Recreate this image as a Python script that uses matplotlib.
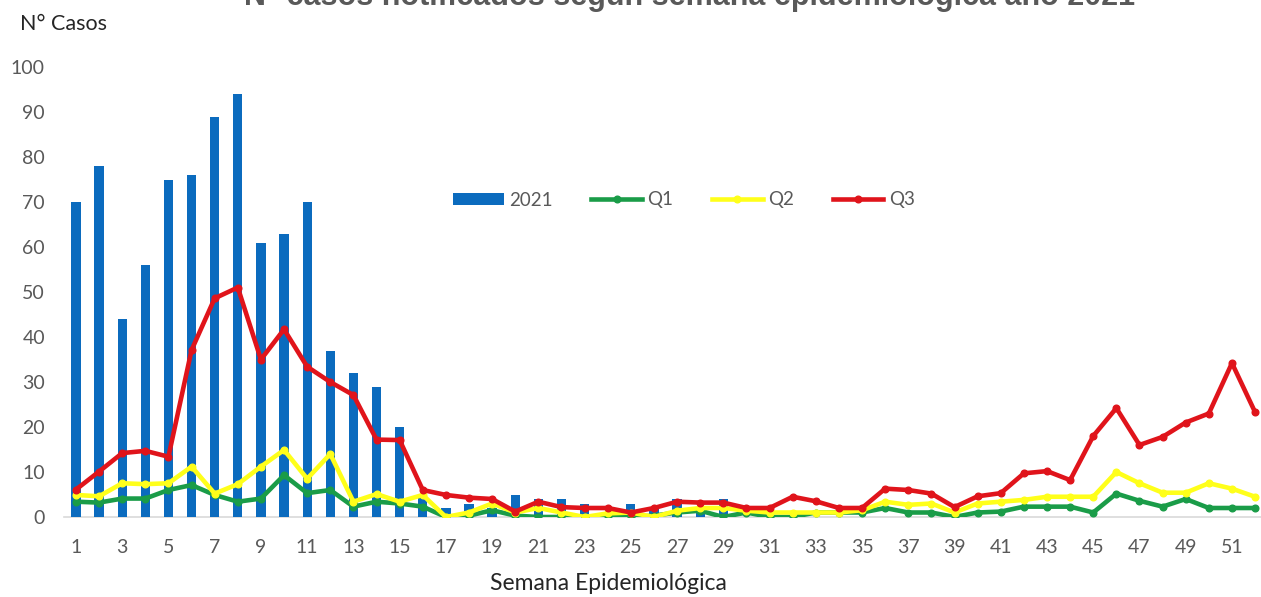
import matplotlib
matplotlib.use("Agg")
import matplotlib.pyplot as plt
import numpy as np

weeks = list(range(1, 53))
cases_2021 = [70, 78, 44, 56, 75, 76, 89, 94, 61, 63, 70, 37, 32, 29, 20, 5, 2, 3, 2, 5,
              4, 4, 3, 1, 3, 2, 4, 2, 4, 0, 0, 0, 0, 0, 0, 0, 0, 0, 0, 0,
              0, 0, 0, 0, 0, 0, 0, 0, 0, 0, 0, 0]
q1 = [3.4, 3.2, 4.1, 4.1, 6, 7.1, 4.9, 3.4, 4.1, 9.3, 5.3, 6, 2.3, 3.4, 3, 2.3, 0, 0.3, 1.5, 0.3,
      0, 0, 0, 0.3, 0, 0.3, 1, 1.4, 0, 1, 0, 0, 1, 1, 1, 2, 1, 1, 0, 1,
      1.2, 2.3, 2.3, 2.3, 1, 5.2, 3.6, 2.3, 4, 2, 2, 2]
q2 = [4.9, 4.6, 7.5, 7.3, 7.5, 11.2, 5.2, 7.3, 11.2, 14.9, 8.5, 14, 3.4, 5.1, 3.4, 4.9, 0, 1, 3, 1,
      2, 1, 0, 0.8, 1, 0, 1.4, 2, 2, 1.4, 1, 1, 1, 1, 1.5, 3.4, 2.7, 3, 1, 3,
      3.4, 3.8, 4.5, 4.5, 4.5, 10, 7.5, 5.4, 5.4, 7.5, 6.3, 4.5]
q3 = [6.1, 10.1, 14.2, 14.7, 13.4, 37.1, 48.6, 51, 35, 41.7, 33.4, 30, 27.1, 17.2, 17.1, 6, 4.9, 4.3, 4, 1.2,
      3.4, 2.2, 2, 2, 1, 2, 3.4, 3.2, 3.2, 2, 2, 4.5, 3.5, 2, 2, 6.3, 6, 5.2, 2.2, 4.6,
      5.3, 9.7, 10.2, 8.2, 18, 24.2, 16, 17.8, 21, 23, 34.2, 23.3]
x_tick_labels = [str(w) for w in weeks if w % 2 == 1]
y_ticks = list(range(0, 101, 10))

title = "N° casos notificados según semana epidemiológica año 2021"
y_label = "N° Casos"
x_label = "Semana Epidemiológica"
series_names = ["2021", "Q1", "Q2", "Q3"]

plt.rcParams['font.family'] = ['Lato', 'DejaVu Sans']

W, H = 1261, 597
fig = plt.figure(figsize=(W / 100, H / 100), dpi=100)
left_px, right_px = 64.4, 1261
bottom_px, top_px = 517, 67
ax = fig.add_axes([left_px / W, (H - bottom_px) / H, (right_px - left_px) / W, (bottom_px - top_px) / H])

gray = "#595959"
bar_c = "#0B6BBE"
green = "#1A9C48"
yellow = "#FFFF1A"
red = "#E0141B"

bars = ax.bar(weeks, cases_2021, width=0.4, color=bar_c, label=series_names[0], zorder=1)
lw = 3.3
ms = 4.8
l1, = ax.plot(weeks, q1, color=green, lw=lw, marker='o', ms=ms, label=series_names[1], zorder=2)
l2, = ax.plot(weeks, q2, color=yellow, lw=lw, marker='o', ms=ms, label=series_names[2], zorder=3)
l3, = ax.plot(weeks, q3, color=red, lw=lw, marker='o', ms=ms, label=series_names[3], zorder=4)

span_weeks = (right_px - left_px) / 23.12
ax.set_xlim(0.5, 0.5 + span_weeks)
ax.set_ylim(0, 100)

for s in ["top", "right", "left"]:
    ax.spines[s].set_visible(False)
ax.spines["bottom"].set_color("#D9D9D9")
ax.spines["bottom"].set_linewidth(1.2)
ax.spines["bottom"].set_zorder(0)

ax.set_xticks([w for w in weeks if w % 2 == 1])
ax.set_xticklabels(x_tick_labels)
ax.set_yticks(y_ticks)
ax.tick_params(axis='both', length=0, colors=gray, labelsize=14)
ax.tick_params(axis='y', pad=14)
ax.tick_params(axis='x', pad=16)

leg = ax.legend([bars, l1, l2, l3], series_names, loc='center left',
                bbox_to_anchor=((453 - left_px) / (right_px - left_px),
                                (bottom_px - 200) / (bottom_px - top_px)),
                ncol=4, frameon=False, fontsize=13.5, handlelength=2.7, handleheight=0.6,
                handletextpad=0.3, columnspacing=2.05, borderaxespad=0, borderpad=0)
for t in leg.get_texts():
    t.set_color(gray)

fig.text(20 / W, 1 - 24 / H, y_label, fontsize=15.5, color="#262626", ha='left', va='center')
fig.text(608 / W, 1 - 583 / H, x_label, fontsize=16.5, color="#262626", ha='center', va='center')
fig.text(690 / W, 1 - 5 / H, title, fontsize=22, fontweight='bold', color=gray,
         family=['Liberation Sans', 'DejaVu Sans'], ha='center', va='baseline')

fig.savefig("out.png", dpi=100, facecolor="white")
